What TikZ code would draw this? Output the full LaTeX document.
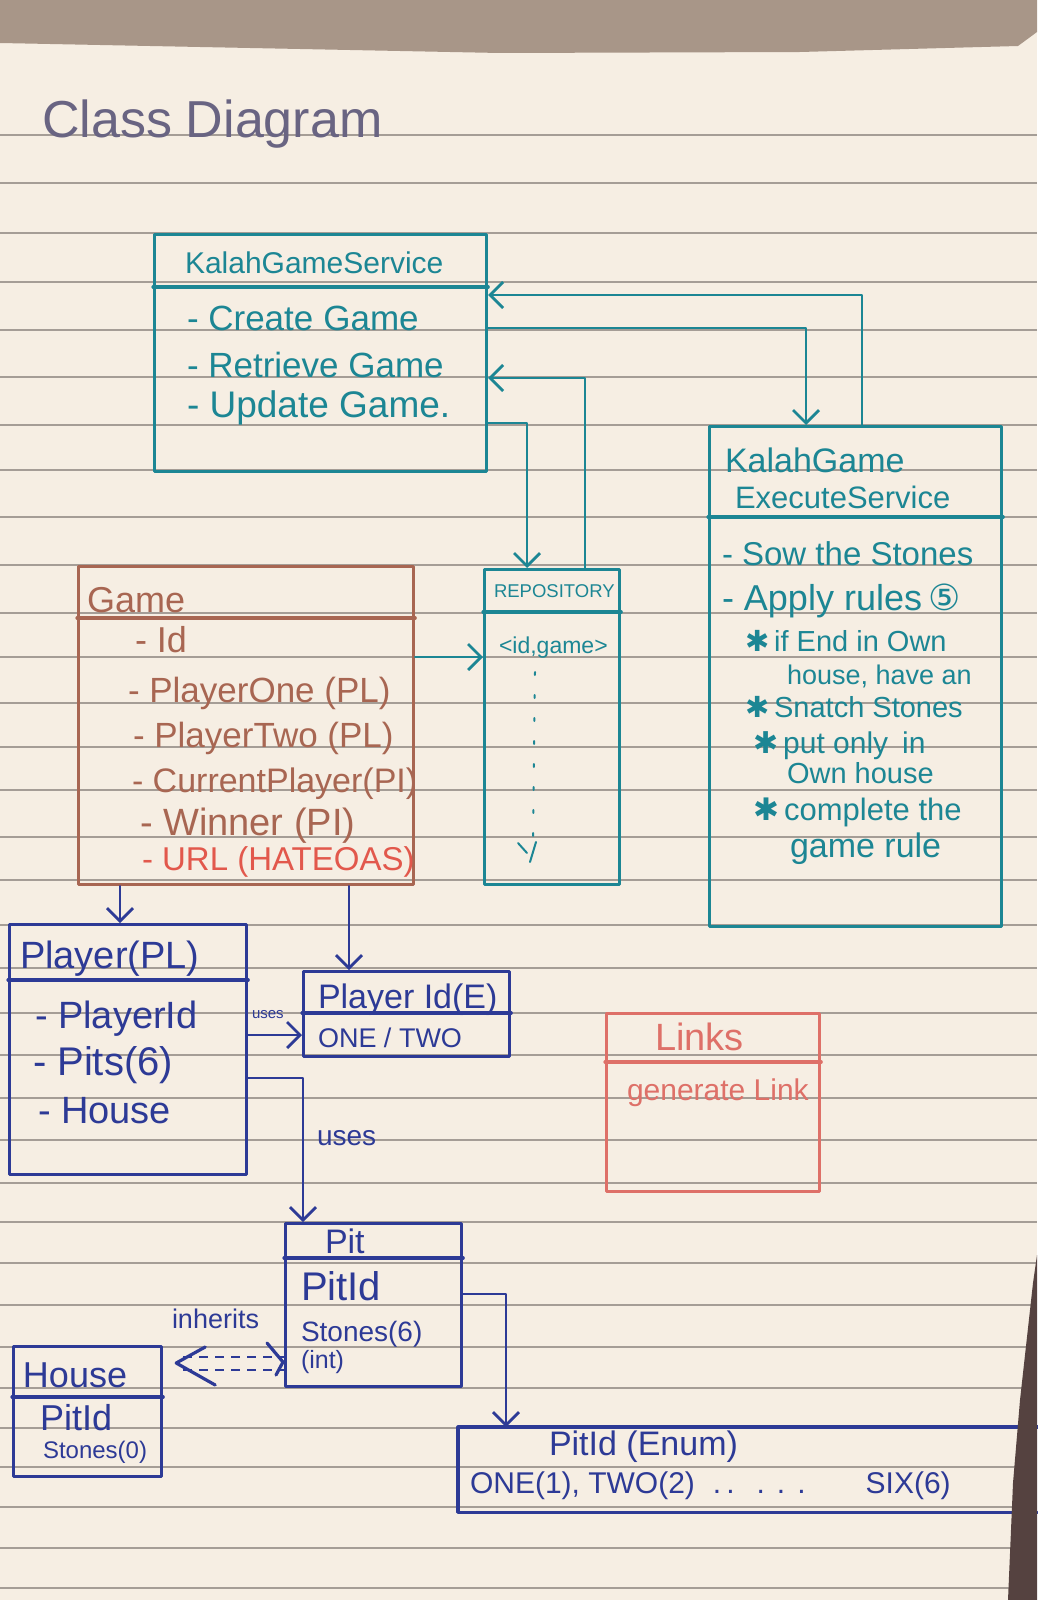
\documentclass[tikz,border=0pt]{standalone}
\usepackage{fontspec}
\setmainfont{Liberation Sans}
\newfontfamily\symfont{DejaVu Sans}
\usetikzlibrary{arrows.meta}
\definecolor{paper}{RGB}{246,238,227}
\definecolor{rulec}{RGB}{165,157,150}
\definecolor{tealink}{RGB}{28,134,148}
\definecolor{blueink}{RGB}{45,58,150}
\definecolor{brownink}{RGB}{168,102,82}
\definecolor{redink}{RGB}{226,88,76}
\definecolor{pinkink}{RGB}{222,112,104}
\definecolor{titleink}{RGB}{105,100,130}
\definecolor{bandc}{RGB}{168,150,136}
\definecolor{darkbg}{RGB}{85,66,64}
\newcommand{\mytext}[5][]{\node[txt,#1] (#2) at (#3) {\fontsize{#4pt}{#4pt}\selectfont #5};}
\tikzset{
  txt/.style={anchor=base west, inner sep=0pt, outer sep=0pt},
  pen/.style={line width=3.2pt, line cap=round, line join=round},
  boxs/.style={pen, rectangle, anchor=north west, inner sep=0pt},
  conn/.style={line width=2.8pt, line cap=round, line join=round, -{Straight Barb[length=13pt,width=26pt]}},
}
\begin{document}
\begin{tikzpicture}[x=1pt,y=-1pt]
\fill[paper] (0,0) rectangle (1037,1600);
\useasboundingbox (0,0) rectangle (1037,1600);
% ruled lines
\foreach \yy in {135,183,233,282,330,377,425,470,517,565,613,657,703,747,790,837,880,925,968,1013,1055,1098,1140,1183,1222,1263,1305,1347,1388,1428,1467,1507,1548,1588}
  \draw[rulec, line width=1.1pt] (0,\yy) -- (1037,\yy);
% top band
\fill[bandc] (0,0) -- (1037,0) -- (1037,32) -- (1018,46) -- (800,52) -- (500,53) -- (200,47) -- (0,43) -- cycle;

% title
\mytext[titleink]{ttl}{42,137}{52}{Class\hspace{14pt}Diagram}

% ---------- KalahGameService
\node[boxs, draw=tealink, minimum width=332pt, minimum height=237pt] (svc) at (153,233) {};
\draw[pen, tealink] (svc.west |- 0,287) -- (svc.east |- 0,287);
\mytext[tealink]{s0}{185,273}{30}{KalahGameService}
\mytext[tealink]{s1}{187,330}{35}{- Create\hspace{10pt}Game}
\mytext[tealink]{s2}{187,377}{35}{- Retrieve Game}
\mytext[tealink]{s3}{187,417}{37}{- Update Game.}

% ---------- KalahGameExecuteService
\node[boxs, draw=tealink, minimum width=292pt, minimum height=500pt] (exec) at (708,425) {};
\draw[pen, tealink] (exec.west |- 0,517) -- (exec.east |- 0,517);
\mytext[tealink]{e0}{725,472}{34}{KalahGame}
\mytext[tealink]{e1}{735,508}{31}{ExecuteService}
\mytext[tealink]{e2}{722,565}{33}{- Sow the Stones}
\mytext[tealink]{e3}{722,610}{36}{- Apply rules\,{\symfont ⑤}}
\mytext[tealink]{e4}{745,651}{29}{{\symfont ✱}\,if End in Own}
\mytext[tealink]{e5}{787,684}{27}{house, have an}
\mytext[tealink]{e6}{745,717}{29}{{\symfont ✱}\,Snatch Stones}
\mytext[tealink]{e7}{753,753}{30}{{\symfont ✱}\,put only\hspace{14pt}in}
\mytext[tealink]{e8}{787,783}{29}{Own house}
\mytext[tealink]{e9}{753,820}{31}{{\symfont ✱}\,complete the}
\mytext[tealink]{e10}{790,857}{34}{game rule}

% ---------- Repository
\node[boxs, draw=tealink, minimum width=135pt, minimum height=315pt] (repo) at (483,568) {};
\draw[pen, tealink] (repo.west |- 0,612) -- (repo.east |- 0,612);
\mytext[tealink]{r0}{494,597}{18.5}{REPOSITORY}
\mytext[tealink]{r1}{499,653}{23}{<id,game>}
\draw[tealink, line width=2pt, line cap=round, dash pattern=on 3pt off 20pt] (535,672) -- (533,836);
\draw[tealink, line width=2pt, line cap=round] (518,843) -- (527,853);
\draw[tealink, line width=2pt, line cap=round] (536,842) -- (530,862);

% ---------- Game
\node[boxs, draw=brownink, minimum width=335pt, minimum height=318pt] (game) at (77,565) {};
\draw[pen, brownink] (game.west |- 0,618) -- (game.east |- 0,618);
\mytext[brownink]{g0}{87,612}{36}{Game}
\mytext[brownink]{g1}{135,652}{36}{- Id}
\mytext[brownink]{g2}{128,702}{35}{- PlayerOne (PL)}
\mytext[brownink]{g3}{133,747}{35}{- PlayerTwo (PL)}
\mytext[brownink]{g4}{132,792}{34}{- CurrentPlayer(PI)}
\mytext[brownink]{g5}{140,835}{38}{- Winner (PI)}
\mytext[redink]{g6}{142,870}{33}{- URL (HATEOAS)}

% ---------- Player
\node[boxs, draw=blueink, minimum width=237pt, minimum height=250pt] (player) at (8,923) {};
\draw[pen, blueink] (player.west |- 0,980) -- (player.east |- 0,980);
\mytext[blueink]{p0}{20,968}{38}{Player(PL)}
\mytext[blueink]{p1}{35,1028}{38}{- PlayerId}
\mytext[blueink]{p2}{33,1075}{40}{- Pits(6)}
\mytext[blueink]{p3}{38,1123}{38}{- House}

% ---------- PlayerId(E)
\node[boxs, draw=blueink, minimum width=206pt, minimum height=85pt] (playerid) at (302,970) {};
\draw[pen, blueink] (playerid.west |- 0,1013) -- (playerid.east |- 0,1013);
\mytext[blueink]{q0}{318,1008}{34}{Player Id(E)}
\mytext[blueink]{q1}{318,1047}{27}{ONE / TWO}

% ---------- Links
\node[boxs, draw=pinkink, minimum width=213pt, minimum height=178pt] (links) at (605,1012) {};
\draw[pen, pinkink] (links.west |- 0,1062) -- (links.east |- 0,1062);
\mytext[pinkink]{l0}{655,1050}{38}{Links}
\mytext[pinkink]{l1}{627,1100}{30}{generate Link}

% ---------- Pit
\node[boxs, draw=blueink, minimum width=176pt, minimum height=163pt] (pit) at (284,1222) {};
\draw[pen, blueink] (pit.west |- 0,1258) -- (pit.east |- 0,1258);
\mytext[blueink]{i0}{325,1253}{34}{Pit}
\mytext[blueink]{i1}{301,1300}{40}{PitId}
\mytext[blueink]{i2}{301,1341}{28}{Stones(6)}
\mytext[blueink]{i3}{301,1368}{25}{(int)}

% ---------- House
\node[boxs, draw=blueink, minimum width=148pt, minimum height=130pt] (house) at (12,1345) {};
\draw[pen, blueink] (house.west |- 0,1397) -- (house.east |- 0,1397);
\mytext[blueink]{h0}{23,1387}{36}{House}
\mytext[blueink]{h1}{40,1430}{36}{PitId}
\mytext[blueink]{h2}{43,1458}{24}{Stones(0)}

% ---------- PitId(Enum)
\node[anchor=north west, inner sep=0pt, minimum width=579pt, minimum height=85pt] (enum) at (458,1427) {};
\draw[pen, blueink] (enum.north east) -- (enum.north west) -- (enum.south west) -- (enum.south east);
\mytext[blueink]{n0}{549,1455}{34}{PitId (Enum)}
\mytext[blueink]{n1}{470,1493}{30}{ONE(1), TWO(2)\hspace{18pt}.\,.\hspace{22pt}.\hspace{12pt}.\hspace{12pt}.\hspace{60pt}SIX(6)}

% ---------- connectors
\draw[conn, draw=tealink] ([xshift=154pt]exec.north west) |- ([yshift=-62pt]svc.north east);
\draw[conn, draw=tealink] ([yshift=-95pt]svc.north east) -| ([xshift=98pt]exec.north west);
\draw[conn, draw=tealink] ([xshift=102pt]repo.north west) |- ([yshift=-145pt]svc.north east);
\draw[conn, draw=tealink] ([yshift=-190pt]svc.north east) -| ([xshift=44pt]repo.north west);
\draw[conn, draw=tealink] ([yshift=-92pt]game.north east) -- ([yshift=-89pt]repo.north west);
\draw[conn, draw=blueink] ([xshift=43pt]game.south west) -- ([xshift=112pt]player.north west);
\draw[conn, draw=blueink] ([xshift=272pt]game.south west) -- ([xshift=47pt]playerid.north west);
\draw[conn, draw=blueink] ([yshift=-112pt]player.north east) -- ([yshift=-65pt]playerid.north west);
\draw[conn, draw=blueink] ([yshift=-155pt]player.north east) -| ([xshift=19pt]pit.north west);
\draw[conn, draw=blueink] ([yshift=-72pt]pit.north east) -| ([xshift=48pt]enum.north west);
\mytext[blueink]{u1}{252,1018}{15}{uses}
\mytext[blueink]{u2}{317,1145}{28}{uses}

% inherits (double dashed, tips at both ends)
\draw[blueink, line width=2.6pt, dash pattern=on 9pt off 7pt] ([xshift=20pt,yshift=-12pt]house.north east) -- ([yshift=-135pt]pit.north west);
\draw[blueink, line width=2.6pt, dash pattern=on 9pt off 7pt] ([xshift=20pt,yshift=-25pt]house.north east) -- ([yshift=-148pt]pit.north west);
\draw[pen, blueink] ([xshift=42pt,yshift=-2pt]house.north east) -- ([xshift=13pt,yshift=-18pt]house.north east) -- ([xshift=52pt,yshift=-40pt]house.north east);
\draw[pen, blueink] ([xshift=-17pt,yshift=-121pt]pit.north west) -- ([xshift=-1pt,yshift=-140pt]pit.north west) -- ([xshift=-8pt,yshift=-153pt]pit.north west);
\mytext[blueink]{ih}{172,1328}{27}{inherits}

% dark background at right edge
\fill[darkbg] (1037,1255) -- (1033,1283) -- (1020,1400) -- (1013,1483) -- (1008,1600) -- (1037,1600) -- cycle;
\end{tikzpicture}
\end{document}
